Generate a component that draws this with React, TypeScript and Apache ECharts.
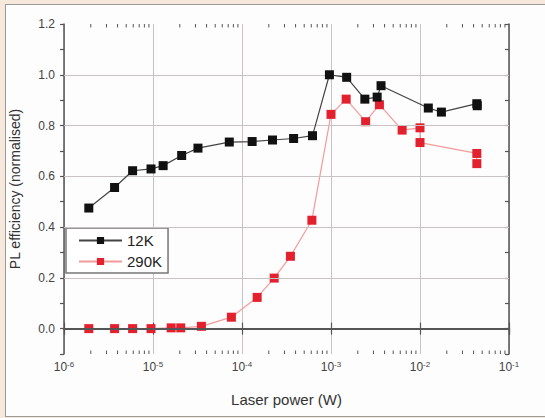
import React, { useEffect, useRef } from "react";
import * as echarts from "echarts";

const x12K = [1.9e-6, 3.7e-6, 5.9e-6, 9.5e-6, 1.3e-5, 2.1e-5, 3.2e-5, 7.2e-5, 1.3e-4, 2.2e-4, 3.8e-4, 6.2e-4, 9.6e-4, 1.5e-3, 2.4e-3, 3.3e-3, 3.65e-3, 1.24e-2, 1.74e-2, 4.35e-2, 4.4e-2];
const y12K = [0.475, 0.556, 0.622, 0.629, 0.642, 0.682, 0.711, 0.735, 0.737, 0.743, 0.749, 0.76, 1.0, 0.99, 0.904, 0.912, 0.957, 0.869, 0.853, 0.886, 0.878];

const x290K = [1.9e-6, 3.7e-6, 5.9e-6, 9.5e-6, 1.6e-5, 2.05e-5, 3.5e-5, 7.6e-5, 1.48e-4, 2.3e-4, 3.5e-4, 6.1e-4, 1.0e-3, 1.48e-3, 2.45e-3, 3.5e-3, 6.3e-3, 1.0e-2, 1.0e-2, 4.35e-2, 4.35e-2];
const y290K = [0, 0, 0, 0, 0.003, 0.003, 0.009, 0.045, 0.123, 0.199, 0.285, 0.427, 0.844, 0.904, 0.815, 0.882, 0.782, 0.791, 0.733, 0.69, 0.65];

const seriesNames = ["12K", "290K"];
const yMin = -0.1;
const yMax = 1.2;
const xMin = 1e-6;
const xMax = 1e-1;
const hGridValues = [0.2, 0.4, 0.6, 0.8, 1.0];
const decades = [1e-6, 1e-5, 1e-4, 1e-3, 1e-2];
const minorMultipliers = [2, 3, 4, 5, 6, 7, 8, 9];

const FONT = "'Liberation Sans', Arial, sans-serif";

export default function App() {
  const ref = useRef<HTMLDivElement>(null);
  useEffect(() => {
    if (!ref.current) return;
    const chart = echarts.init(ref.current, undefined, { renderer: "svg" });
    const minorTicks: number[][] = [];
    decades.forEach((d) => minorMultipliers.forEach((m) => minorTicks.push([d * m, yMin])));

    const axisLineStyle = { color: "#555", width: 1.5 };
    const option: any = {
      animation: false,
      backgroundColor: "transparent",
      textStyle: { fontFamily: FONT },
      grid: { left: 62, right: 36, top: 24, bottom: 64, containLabel: false },
      legend: {
        data: seriesNames,
        orient: "vertical",
        left: 66,
        top: 228,
        padding: [5, 6, 4, 12],
        itemWidth: 43,
        itemHeight: 9,
        itemGap: 6,
        borderColor: "#777",
        borderWidth: 1.5,
        backgroundColor: "#fff",
        textStyle: { fontSize: 15, color: "#222", fontFamily: FONT },
      },
      xAxis: [
        {
          type: "log",
          logBase: 10,
          min: xMin,
          max: xMax,
          position: "bottom",
          name: "Laser power (W)",
          nameLocation: "middle",
          nameGap: 38,
          nameTextStyle: { fontSize: 15, color: "#333", fontFamily: FONT },
          axisLine: { show: true, lineStyle: axisLineStyle },
          axisTick: { show: true, inside: true, length: 6, lineStyle: { color: "#555", width: 1.2 } },
          splitLine: { show: true, lineStyle: { color: "#c9c2c2", width: 1 } },
          axisLabel: {
            margin: 6,
            color: "#444",
            formatter: (v: number) => "{b|10}{s|" + Math.round(Math.log10(v)) + "}",
            rich: {
              b: { fontSize: 12, color: "#444", fontFamily: FONT },
              s: { fontSize: 8, color: "#444", fontFamily: FONT, verticalAlign: "top", padding: [0, 0, 6, 0] },
            },
          },
        },
        {
          type: "log",
          logBase: 10,
          min: xMin,
          max: xMax,
          position: "top",
          axisLine: { show: true, lineStyle: axisLineStyle },
          axisTick: { show: true, inside: true, length: 6, lineStyle: { color: "#555", width: 1.2 } },
          axisLabel: { show: false },
          splitLine: { show: false },
        },
      ],
      yAxis: [
        {
          type: "value",
          min: yMin,
          max: yMax,
          interval: 0.1,
          position: "left",
          name: "PL efficiency (normalised)",
          nameLocation: "middle",
          nameGap: 42,
          nameTextStyle: { fontSize: 14, color: "#333", fontFamily: FONT },
          axisLine: { show: true, lineStyle: axisLineStyle },
          axisTick: { show: true, inside: false, length: 4, lineStyle: { color: "#555", width: 1.2 } },
          splitLine: { show: false },
          axisLabel: {
            margin: 9,
            fontSize: 12,
            color: "#444",
            formatter: (v: number) => {
              const r = Math.round(v * 10);
              if (r < 0 || r % 2 !== 0) return "";
              return (r / 10).toFixed(1);
            },
          },
        },
        {
          type: "value",
          min: yMin,
          max: yMax,
          interval: 0.1,
          position: "right",
          axisLine: { show: true, lineStyle: axisLineStyle },
          axisTick: { show: true, inside: true, length: 4, lineStyle: { color: "#555", width: 1.2 } },
          axisLabel: { show: false },
          splitLine: { show: false },
        },
      ],
      series: [
        {
          name: "grid",
          type: "line",
          data: [],
          z: 1,
          silent: true,
          markLine: {
            silent: true,
            symbol: "none",
            label: { show: false },
            animation: false,
            data: [
              ...hGridValues.map((v) => ({ yAxis: v, lineStyle: { color: "#c9c2c2", width: 1, type: "solid" } })),
              { yAxis: 0, lineStyle: { color: "#555", width: 2, type: "solid" } },
            ],
          },
        },
        {
          name: "minor",
          type: "custom",
          xAxisIndex: 0,
          yAxisIndex: 0,
          silent: true,
          clip: false,
          z: 3,
          data: minorTicks,
          renderItem: (params: any, api: any) => {
            const v = api.value(0);
            const b = api.coord([v, yMin]);
            const t = api.coord([v, yMax]);
            return {
              type: "group",
              children: [
                { type: "line", shape: { x1: b[0], y1: b[1], x2: b[0], y2: b[1] - 3.5 }, style: { stroke: "#555", lineWidth: 1 } },
                { type: "line", shape: { x1: t[0], y1: t[1], x2: t[0], y2: t[1] + 3.5 }, style: { stroke: "#555", lineWidth: 1 } },
              ],
            };
          },
        },
        {
          name: seriesNames[0],
          type: "line",
          data: x12K.map((x, i) => [x, y12K[i]]),
          symbol: "rect",
          symbolSize: 9,
          z: 5,
          lineStyle: { color: "#444", width: 1.2 },
          itemStyle: { color: "#111" },
        },
        {
          name: seriesNames[1],
          type: "line",
          data: x290K.map((x, i) => [x, y290K[i]]),
          symbol: "rect",
          symbolSize: 9,
          z: 4,
          lineStyle: { color: "#f39a9a", width: 1.2 },
          itemStyle: { color: "#e3202e" },
        },
      ],
    };
    chart.setOption(option);
    return () => chart.dispose();
  }, []);

  return (
    <div style={{ position: "fixed", left: 0, top: 0, width: 545, height: 418, background: "#f6e8db", overflow: "hidden" }}>
      <div
        style={{
          position: "absolute",
          left: 5,
          top: 4,
          width: 545,
          height: 413,
          boxSizing: "border-box",
          border: "1.5px solid #9a9a9a",
          background: "#fdfdfd",
        }}
      />
      <div ref={ref} style={{ position: "absolute", left: 0, top: 0, width: 545, height: 418 }} />
    </div>
  );
}
